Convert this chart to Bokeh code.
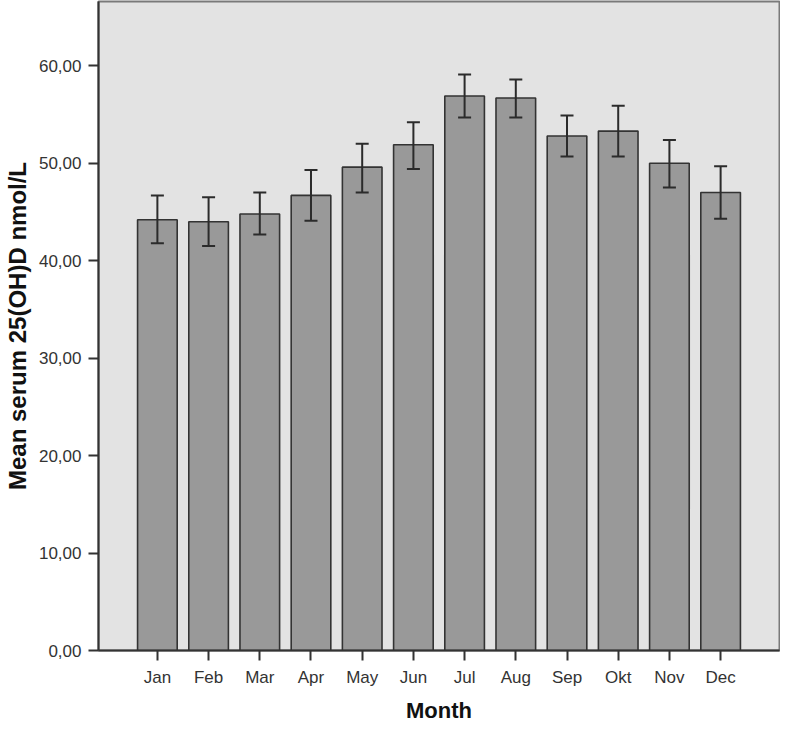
from bokeh.plotting import figure
from bokeh.models import ColumnDataSource, FactorRange, Range1d, Whisker, TeeHead, FixedTicker
from bokeh.embed import file_html
from bokeh.resources import INLINE

months = ["Jan", "Feb", "Mar", "Apr", "May", "Jun", "Jul", "Aug", "Sep", "Okt", "Nov", "Dec"]
means = [44.2, 44.0, 44.8, 46.7, 49.6, 51.9, 56.9, 56.7, 52.8, 53.3, 50.0, 47.0]
err_upper = [46.7, 46.5, 47.0, 49.3, 52.0, 54.2, 59.1, 58.6, 54.9, 55.9, 52.4, 49.7]
err_lower = [41.8, 41.5, 42.7, 44.1, 47.0, 49.4, 54.7, 54.7, 50.7, 50.7, 47.5, 44.3]
y_ticks = [0, 10, 20, 30, 40, 50, 60]
y_tick_labels = ["0,00", "10,00", "20,00", "30,00", "40,00", "50,00", "60,00"]

src = ColumnDataSource(dict(month=months, mean=means, upper=err_upper, lower=err_lower))

p = figure(width=780, height=725, output_backend="svg", toolbar_location=None,
           x_range=FactorRange(factors=months, range_padding=0.65, range_padding_units="absolute"),
           y_range=Range1d(0, 66.6),
           min_border_left=80, min_border_right=1, min_border_top=1, min_border_bottom=0)

p.background_fill_color = "#e3e3e3"
p.border_fill_color = "white"
p.outline_line_color = "#7a7a7a"
p.outline_line_width = 2
p.xgrid.visible = False
p.ygrid.visible = False

p.vbar(x="month", top="mean", width=0.774, source=src,
       fill_color="#999999", line_color="#333333", line_width=1.6)

w = Whisker(base="month", upper="upper", lower="lower", source=src, level="overlay",
            line_color="#2b2b2b", line_width=2,
            upper_head=TeeHead(size=13, line_color="#2b2b2b", line_width=2),
            lower_head=TeeHead(size=13, line_color="#2b2b2b", line_width=2))
p.add_layout(w)

for ax in (p.xaxis[0], p.yaxis[0]):
    ax.axis_line_color = "#333333"
    ax.axis_line_width = 2
    ax.major_tick_line_color = "#333333"
    ax.major_tick_line_width = 2
    ax.major_tick_out = 10
    ax.major_tick_in = 0
    ax.minor_tick_line_color = None
    ax.major_label_text_font = "Liberation Sans"
    ax.major_label_text_font_size = "17px"
    ax.major_label_text_color = "#333333"
    ax.major_label_standoff = 7
    ax.axis_label_text_font = "Liberation Sans"
    ax.axis_label_text_font_style = "bold"
    ax.axis_label_text_color = "#111111"

p.yaxis.ticker = FixedTicker(ticks=y_ticks)
p.yaxis.major_label_overrides = {t: l for t, l in zip(y_ticks, y_tick_labels)}
p.yaxis.axis_label = "Mean serum 25(OH)D nmol/L"
p.yaxis.axis_label_text_font_size = "24px"
p.yaxis.axis_label_standoff = 5

p.xaxis.axis_label = "Month"
p.xaxis.axis_label_text_font_size = "22px"
p.xaxis.axis_label_standoff = 8

open("out.html", "w").write(file_html(p, INLINE))
